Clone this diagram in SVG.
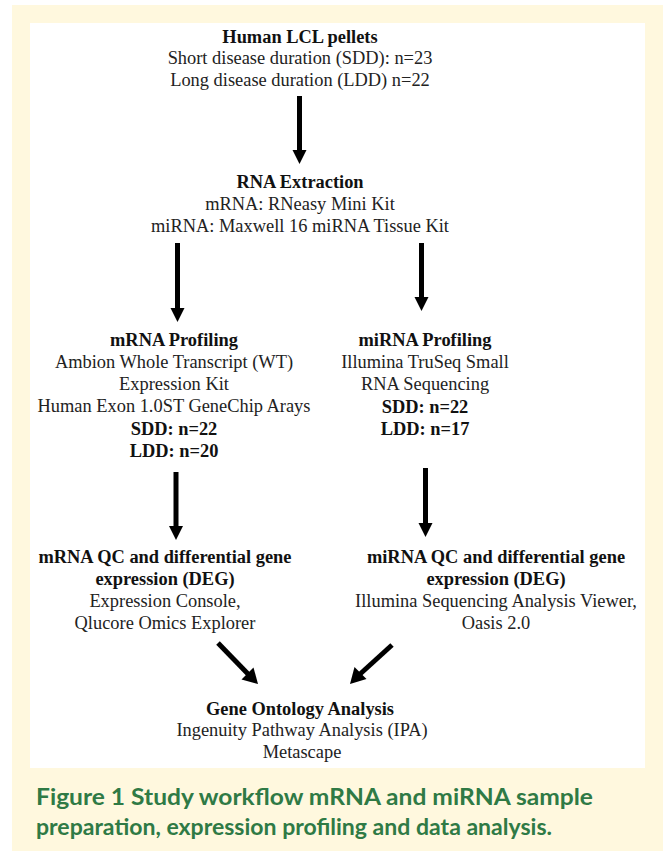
<svg xmlns="http://www.w3.org/2000/svg" width="663" height="851" viewBox="0 0 663 851">
<defs>
<style>
.t{font-family:"Liberation Serif","Times New Roman",serif;font-size:18.4px;fill:#222;text-anchor:middle}
.b{font-weight:bold;fill:#111}
.cap{font-family:Lato,"Open Sans",sans-serif;font-weight:bold;font-size:23px;fill:#2f7a45}
.sh{stroke:#000;stroke-width:5;fill:none}
.hd{fill:#000}
</style>
</defs>
<rect x="0" y="0" width="663" height="851" fill="#ffffff"/>
<rect x="12" y="5" width="651" height="846" fill="#fff8de"/>
<rect x="30" y="23" width="615" height="745" fill="#ffffff"/>

<g id="connectors">
  <g id="a1"><line class="sh" x1="299.5" y1="96" x2="299.5" y2="152"/><polygon class="hd" points="292.5,150 306.5,150 299.5,164"/></g>
  <g id="a2"><line class="sh" x1="177.5" y1="243" x2="177.5" y2="310"/><polygon class="hd" points="170.5,308 184.5,308 177.5,322"/></g>
  <g id="a3"><line class="sh" x1="421.5" y1="243" x2="421.5" y2="299"/><polygon class="hd" points="414.5,297 428.5,297 421.5,311"/></g>
  <g id="a4"><line class="sh" x1="176" y1="472" x2="176" y2="528"/><polygon class="hd" points="169,526 183,526 176,540"/></g>
  <g id="a5"><line class="sh" x1="425.5" y1="468" x2="425.5" y2="525"/><polygon class="hd" points="418.5,523 432.5,523 425.5,537"/></g>
  <g id="a6"><line class="sh" x1="218" y1="643" x2="249" y2="675"/><polygon class="hd" points="241.5,679.5 253.5,667.5 258,684"/></g>
  <g id="a7"><line class="sh" x1="392" y1="645" x2="359" y2="675"/><polygon class="hd" points="354.5,667 366.5,679 350,684"/></g>
</g>

<g id="n1">
  <text class="t b" x="300" y="43">Human LCL pellets</text>
  <text class="t" x="300" y="64">Short disease duration (SDD): n=23</text>
  <text class="t" x="300" y="86">Long disease duration (LDD) n=22</text>
</g>
<g id="n2">
  <text class="t b" x="300" y="188">RNA Extraction</text>
  <text class="t" x="300" y="210">mRNA: RNeasy Mini Kit</text>
  <text class="t" x="300" y="232">miRNA: Maxwell 16 miRNA Tissue Kit</text>
</g>
<g id="n3">
  <text class="t b" x="174" y="346">mRNA Profiling</text>
  <text class="t" x="174" y="368">Ambion Whole Transcript (WT)</text>
  <text class="t" x="174" y="390">Expression Kit</text>
  <text class="t" x="174" y="412">Human Exon 1.0ST GeneChip Arays</text>
  <text class="t b" x="174" y="435">SDD: n=22</text>
  <text class="t b" x="174" y="457">LDD: n=20</text>
</g>
<g id="n4">
  <text class="t b" x="425" y="346">miRNA Profiling</text>
  <text class="t" x="425" y="368">Illumina TruSeq Small</text>
  <text class="t" x="425" y="390">RNA Sequencing</text>
  <text class="t b" x="425" y="413">SDD: n=22</text>
  <text class="t b" x="425" y="435">LDD: n=17</text>
</g>
<g id="n5">
  <text class="t b" x="165" y="563">mRNA QC and differential gene</text>
  <text class="t b" x="165" y="585">expression (DEG)</text>
  <text class="t" x="165" y="607">Expression Console,</text>
  <text class="t" x="165" y="629">Qlucore Omics Explorer</text>
</g>
<g id="n6">
  <text class="t b" x="496" y="563">miRNA QC and differential gene</text>
  <text class="t b" x="496" y="585">expression (DEG)</text>
  <text class="t" x="496" y="607">Illumina Sequencing Analysis Viewer,</text>
  <text class="t" x="496" y="629">Oasis 2.0</text>
</g>
<g id="n7">
  <text class="t b" x="300" y="715">Gene Ontology Analysis</text>
  <text class="t" x="302" y="736">Ingenuity Pathway Analysis (IPA)</text>
  <text class="t" x="302" y="758">Metascape</text>
</g>

<g id="caption">
  <text class="cap" x="36" y="805" textLength="557" lengthAdjust="spacingAndGlyphs">Figure 1 Study workflow mRNA and miRNA sample</text>
  <text class="cap" x="36" y="835" textLength="516" lengthAdjust="spacingAndGlyphs">preparation, expression profiling and data analysis.</text>
</g>
</svg>
